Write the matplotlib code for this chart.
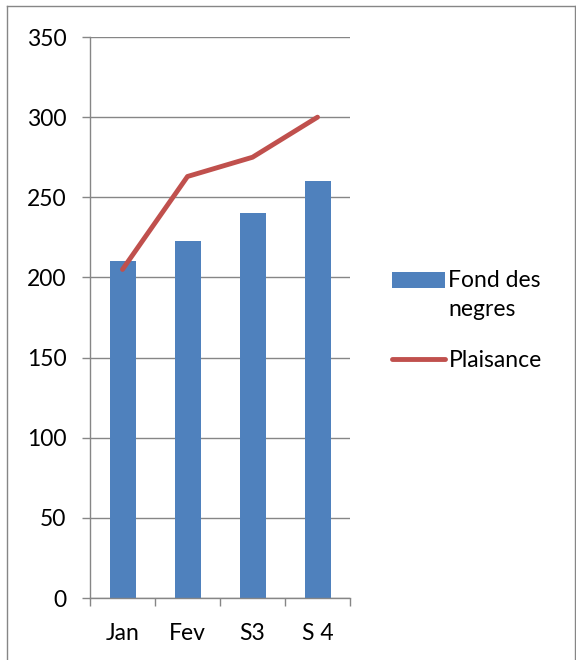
import matplotlib
matplotlib.use('Agg')
import matplotlib.pyplot as plt
from matplotlib.lines import Line2D
from matplotlib.legend_handler import HandlerPatch

categories = ['Jan', 'Fev', 'S3', 'S 4']
fond_des_negres = [210, 223, 240, 260]
plaisance = [205, 263, 275, 300]
yticks = [0, 50, 100, 150, 200, 250, 300, 350]

BLUE = '#4F81BD'
RED = '#C0504D'
GRID = '#868686'
FS = 16.5
SHIFT = 11.5  # points, lifts the bar patch up to the first label line

plt.rcParams.update({
    'font.family': ['Lato', 'DejaVu Sans'],
    'font.size': FS,
})


class FirstLinePatch(HandlerPatch):
    # put the patch next to the first line of a two-line label
    def create_artists(self, legend, orig_handle, xdescent, ydescent,
                       width, height, fontsize, trans):
        return super().create_artists(legend, orig_handle, xdescent,
                                      ydescent - SHIFT, width, height,
                                      fontsize, trans)


fig = plt.figure(figsize=(5.76, 6.6), dpi=100)
ax = fig.add_axes([0.15625, 0.0939, 0.4514, 0.85])

x = list(range(len(categories)))
bars = ax.bar(x, fond_des_negres, width=0.4, color=BLUE, zorder=2)
ax.plot(x, plaisance, color=RED, linewidth=3.5, solid_capstyle='round', zorder=3)

ax.set_xlim(-0.5, len(categories) - 0.5)
ax.set_ylim(0, 350)
ax.set_yticks(yticks)
ax.set_xticks(x)
ax.set_xticklabels(categories)
ax.tick_params(axis='x', length=0, pad=18)
ax.set_xticks([i - 0.5 for i in range(len(categories) + 1)], minor=True)
ax.tick_params(axis='x', which='minor', length=6, color=GRID, width=1)
ax.tick_params(axis='y', length=6, color=GRID, width=1, pad=11)

ax.grid(axis='y', color=GRID, linewidth=1, zorder=0)
for s in ['top', 'right']:
    ax.spines[s].set_visible(False)
for s in ['left', 'bottom']:
    ax.spines[s].set_color(GRID)
    ax.spines[s].set_linewidth(1)

bar_handle = bars.patches[0]
handles = [bar_handle, Line2D([0], [0], color=RED, linewidth=3.5, solid_capstyle='round')]
leg = fig.legend(handles, ['Fond des\nnegres', 'Plaisance'], loc='upper left',
                 bbox_to_anchor=(0.681, 0.591), frameon=False, handlelength=2.3,
                 handleheight=0.7, handletextpad=0.15, labelspacing=1.3,
                 borderaxespad=0, borderpad=0,
                 handler_map={bar_handle: FirstLinePatch()})
for t in leg.get_texts():
    t.set_linespacing(1.5)

# outer border
border = dict(color=GRID, linewidth=1, transform=fig.transFigure)
fig.add_artist(Line2D([0.012, 0.012], [0, 0.991], **border))
fig.add_artist(Line2D([0.012, 0.998], [0.991, 0.991], **border))
fig.add_artist(Line2D([0.998, 0.998], [0, 0.991], **border))

fig.savefig('out.png', dpi=100)
